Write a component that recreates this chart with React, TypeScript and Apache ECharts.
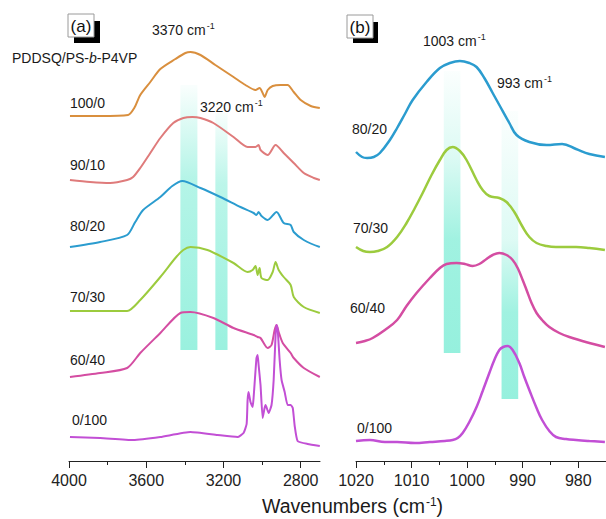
import React, { useEffect, useRef } from "react";
import * as echarts from "echarts";

const FONT = "'Liberation Sans', Arial, Helvetica, sans-serif";

// Panel (a): [wavenumber cm-1, offset absorbance (a.u.)]
const a100_0 = [[3995,345],[3839,345],[3694,346],[3662,353],[3631,366],[3579,379],[3527,392],[3449,402],[3397,408],[3371,409],[3319,406],[3242,396],[3148,384],[3086,376],[3034,371],[3013,373],[2997,368],[2987,364],[2971,371],[2945,375],[2904,376],[2868,376],[2836,369],[2800,361],[2748,355],[2701,353]];
const a90_10 = [[3995,281],[3891,279],[3787,278],[3699,281],[3668,284],[3631,293],[3579,308],[3527,323],[3460,338],[3408,343],[3361,344],[3319,343],[3252,338],[3148,324],[3075,314],[3034,314],[3018,316],[3008,311],[2971,306],[2930,316],[2888,308],[2836,298],[2784,288],[2732,283],[2701,281]];
const a80_20 = [[3995,214],[3839,219],[3699,226],[3657,239],[3616,251],[3527,264],[3465,275],[3413,280],[3319,273],[3216,264],[3112,254],[3044,248],[3029,246],[3018,249],[3003,245],[2971,241],[2925,249],[2888,238],[2852,236],[2836,229],[2784,221],[2701,214]];
const a70_30 = [[3995,150],[3839,150],[3699,150],[3631,161],[3527,184],[3449,203],[3408,211],[3371,214],[3283,211],[3148,198],[3075,189],[3049,191],[3034,195],[3023,186],[3013,193],[3003,183],[2971,181],[2945,189],[2930,199],[2914,191],[2888,184],[2852,176],[2836,164],[2784,154],[2701,148]];
const a60_40 = [[3995,84],[3839,88],[3699,93],[3631,108],[3527,128],[3423,148],[3371,149],[3252,143],[3148,133],[3044,126],[3023,124],[3008,123],[2971,113],[2951,116],[2935,131],[2925,136],[2914,129],[2893,118],[2852,108],[2836,103],[2784,93],[2701,84]];
const a0_100 = [[3995,24],[3839,23],[3668,21],[3527,24],[3371,29],[3231,26],[3127,24],[3096,28],[3080,37],[3075,61],[3070,69],[3060,59],[3049,54],[3044,63],[3029,103],[3023,106],[3018,96],[3008,76],[2997,43],[2987,53],[2982,56],[2966,48],[2951,56],[2940,81],[2930,126],[2925,136],[2919,131],[2909,101],[2899,81],[2883,69],[2868,56],[2852,56],[2841,53],[2831,35],[2816,20],[2764,17],[2701,15]];

// Panel (b)
const b80_20 = [[1020,309],[1018.9,304],[1018,303],[1016.8,304],[1015.7,308],[1013.9,321],[1012.6,333],[1011.2,347],[1009.8,361],[1007.3,379],[1004.9,393],[1003.1,398],[1001.3,400],[999.6,398],[998.3,394],[996.9,383],[995.4,368],[994.2,356],[992.4,338],[991.1,326],[988.8,319],[985.7,316],[982.9,317],[980.4,312],[978,307],[975.2,304]];
const b70_30 = [[1020,214],[1018.7,210],[1017.5,209],[1016.1,210],[1014.4,214],[1012.6,224],[1010.9,238],[1009.4,253],[1008,268],[1006.4,286],[1004.9,301],[1003.7,311],[1002.6,314],[1001.3,310],[1000.1,301],[998.3,281],[997.2,271],[996,265],[994.2,263],[992.9,259],[991.5,249],[990,234],[988.8,224],[987.5,218],[985.7,215],[984,214],[980.4,214],[978,213],[975.2,211]];
const b60_40 = [[1020,118],[1018.4,120],[1017,123],[1014.8,131],[1012.6,141],[1010.9,155],[1009.1,168],[1006.7,183],[1004.9,193],[1003.7,197],[1001.9,198],[1000.4,197],[999,195],[997.8,197],[996.5,202],[995.4,206],[994.2,208],[992.9,206],[991.8,201],[990.9,193],[990,181],[989.3,171],[988.4,158],[987.5,148],[986.5,141],[985.2,134],[983.4,128],[981.6,124],[978,118],[975.2,114]];
const b0_100 = [[1020,20],[1017.5,21],[1014.8,19],[1012.6,19],[1009.4,18],[1006.7,19],[1004,20],[1002.6,21],[1001.7,23],[1000.8,28],[999.6,39],[998.3,54],[997.2,70],[996,88],[995.1,101],[994.2,111],[993.5,114],[992.7,115],[991.8,111],[990.6,98],[989.7,84],[988.8,71],[987.5,53],[986.5,41],[985.2,30],[984,24],[982.2,22],[980.4,21],[978,20],[975.2,19]];

// Highlighted bands: [x1, x2, yTop, yBottom]
const bandsA = [[3423,3335,376,111],[3242,3179,348,111]];
const bandsB = [[1004.2,1001.2,390,108],[993.8,990.8,350,62]];

const ticksA = [4000,3600,3200,2800];
const minorA = [3800,3400,3000];
const ticksB = [1020,1010,1000,990,980];
const minorB = [1015,1005,995,985];

const C = {
  orange: "#D98F3E",
  red: "#DF7B7B",
  blue: "#2B9CCF",
  green: "#9CCB3E",
  pink: "#D44DA2",
  violet: "#C24FD5",
};

function grad(stops: [number, number][]) {
  return new echarts.graphic.LinearGradient(0, 0, 0, 1,
    stops.map(([o, a]) => ({ offset: o, color: `rgba(120,236,212,${a})` })));
}

function lineSeries(name: string, data: number[][], color: string, idx: number, smooth: number, width: number) {
  return {
    name, type: "line", xAxisIndex: idx * 2, yAxisIndex: idx, data,
    showSymbol: false, symbol: "none", smooth,
    lineStyle: { color, width }, z: 2,
  };
}

function richSup(size: number) {
  return {
    n: { fontSize: size, fontFamily: FONT, fill: "#1a1a1a", lineHeight: size + 1, verticalAlign: "bottom" },
    s: { fontSize: Math.round(size * 0.62), fontFamily: FONT, fill: "#1a1a1a", lineHeight: size + 1, verticalAlign: "top", padding: [0, 0, 0, 1] },
  };
}

function supText(main: string, sup: string, size: number) {
  return { text: `{n|${main}}{s|${sup}}`, rich: richSup(size) };
}

function label(x: number, y: number, text: string, size = 14) {
  return {
    type: "text", x, y, z: 20,
    style: { text, fontSize: size, fontFamily: FONT, fill: "#1a1a1a", textAlign: "left", textVerticalAlign: "middle" },
  };
}

function xAxes(grid: number, min: number, max: number, major: number[], minor: number[]) {
  return [
    {
      type: "value", gridIndex: grid, min, max, inverse: true, position: "bottom",
      axisLine: { show: true, onZero: false, lineStyle: { color: "#222", width: 1 } },
      axisTick: { show: true, length: 7, customValues: major, lineStyle: { color: "#222", width: 1 } },
      axisLabel: { show: true, customValues: major, fontSize: 16, color: "#222", margin: 11, fontFamily: FONT,
        formatter: (v: number) => String(v) },
      splitLine: { show: false },
    },
    {
      type: "value", gridIndex: grid, min, max, inverse: true, position: "bottom",
      axisLine: { show: false, onZero: false },
      axisTick: { show: true, length: 4, customValues: minor, lineStyle: { color: "#222", width: 1 } },
      axisLabel: { show: false },
      splitLine: { show: false },
    },
  ];
}

export default function App() {
  const ref = useRef<HTMLDivElement>(null);
  useEffect(() => {
    document.body.style.margin = "0";
    if (!ref.current) return;
    const chart = echarts.init(ref.current, null, { renderer: "svg" });

    const areaA = bandsA.map(([x1, x2, yt, yb], i) => [
      { xAxis: x1, yAxis: yt, itemStyle: { color: i === 0
        ? grad([[0, 0.04], [0.35, 0.55], [1, 0.75]])
        : grad([[0, 0.05], [0.3, 0.5], [1, 0.75]]) } },
      { xAxis: x2, yAxis: yb },
    ]);
    const areaB = bandsB.map(([x1, x2, yt, yb], i) => [
      { xAxis: x1, yAxis: yt, itemStyle: { color: i === 0
        ? grad([[0, 0.03], [0.3, 0.25], [0.6, 0.7], [1, 0.78]])
        : grad([[0, 0.03], [0.45, 0.25], [0.7, 0.7], [1, 0.78]]) } },
      { xAxis: x2, yAxis: yb },
    ]);

    chart.setOption({
      animation: false,
      backgroundColor: "#fff",
      grid: [
        { left: 69, width: 251, top: 10, bottom: 58 },
        { left: 356, width: 250, top: 10, bottom: 58 },
      ],
      xAxis: [
        ...xAxes(0, 2700, 4000, ticksA, minorA),
        ...xAxes(1, 975, 1020, ticksB, minorB),
      ],
      yAxis: [
        { type: "value", gridIndex: 0, min: 0, max: 451, show: false },
        { type: "value", gridIndex: 1, min: 0, max: 451, show: false },
      ],
      series: [
        lineSeries("100/0", a100_0, C.orange, 0, 0.25, 2),
        lineSeries("90/10", a90_10, C.red, 0, 0.25, 2),
        lineSeries("80/20", a80_20, C.blue, 0, 0.25, 2),
        lineSeries("70/30", a70_30, C.green, 0, 0.25, 2),
        lineSeries("60/40", a60_40, C.pink, 0, 0.25, 2),
        lineSeries("0/100", a0_100, C.violet, 0, 0.15, 2),
        lineSeries("80/20 b", b80_20, C.blue, 1, 0.4, 2.5),
        lineSeries("70/30 b", b70_30, C.green, 1, 0.4, 2.5),
        lineSeries("60/40 b", b60_40, C.pink, 1, 0.4, 2.5),
        lineSeries("0/100 b", b0_100, C.violet, 1, 0.4, 2.5),
        {
          name: "bands a", type: "line", xAxisIndex: 0, yAxisIndex: 0, data: [], z: 5,
          markArea: { silent: true, label: { show: false }, data: areaA },
        },
        {
          name: "bands b", type: "line", xAxisIndex: 2, yAxisIndex: 1, data: [], z: 5,
          markArea: { silent: true, label: { show: false }, data: areaB },
        },
      ],
      graphic: [
        // (a) badge
        { type: "rect", z: 20, shape: { x: 74, y: 21, width: 26, height: 22 }, style: { fill: "#000" } },
        { type: "rect", z: 21, shape: { x: 68, y: 14, width: 26, height: 23 }, style: { fill: "#fff", stroke: "#9a9a9a", lineWidth: 1 } },
        { type: "text", z: 22, x: 81, y: 26, style: { text: "(a)", fontSize: 17, fontFamily: FONT, fill: "#111", textAlign: "center", textVerticalAlign: "middle" } },
        // (b) badge
        { type: "rect", z: 20, shape: { x: 353, y: 22, width: 25, height: 21 }, style: { fill: "#000" } },
        { type: "rect", z: 21, shape: { x: 347, y: 15, width: 26, height: 23 }, style: { fill: "#fff", stroke: "#9a9a9a", lineWidth: 1 } },
        { type: "text", z: 22, x: 360, y: 27, style: { text: "(b)", fontSize: 17, fontFamily: FONT, fill: "#111", textAlign: "center", textVerticalAlign: "middle" } },

        {
          type: "text", z: 20, x: 12, y: 58,
          style: {
            text: "{n|PDDSQ/PS-}{i|b}{n|-P4VP}",
            textVerticalAlign: "middle",
            rich: {
              n: { fontSize: 14, fontFamily: FONT, fill: "#1a1a1a" },
              i: { fontSize: 14, fontFamily: FONT, fill: "#1a1a1a", fontStyle: "italic" },
            },
          },
        },
        { type: "text", z: 20, x: 152, y: 29, style: { ...supText("3370 cm", "-1", 14), textVerticalAlign: "middle" } },
        { type: "text", z: 20, x: 200, y: 106, style: { ...supText("3220 cm", "-1", 14), textVerticalAlign: "middle" } },
        { type: "text", z: 20, x: 423, y: 40, style: { ...supText("1003 cm", "-1", 14), textVerticalAlign: "middle" } },
        { type: "text", z: 20, x: 497, y: 82, style: { ...supText("993 cm", "-1", 14), textVerticalAlign: "middle" } },

        label(70, 103, "100/0"),
        label(70, 165, "90/10"),
        label(70, 226, "80/20"),
        label(70, 297, "70/30"),
        label(70, 360, "60/40"),
        label(72, 420, "0/100"),
        label(352, 129, "80/20"),
        label(353, 228, "70/30"),
        label(350, 308, "60/40"),
        label(357, 428, "0/100"),

        {
          type: "text", z: 20, x: 262, y: 506,
          style: { text: "{n|Wavenumbers (cm}{s|-1}{n|)}", rich: richSup(19.5), textVerticalAlign: "middle" },
        },
      ],
    });
    return () => chart.dispose();
  }, []);
  return <div ref={ref} style={{ width: 606, height: 519 }} />;
}
